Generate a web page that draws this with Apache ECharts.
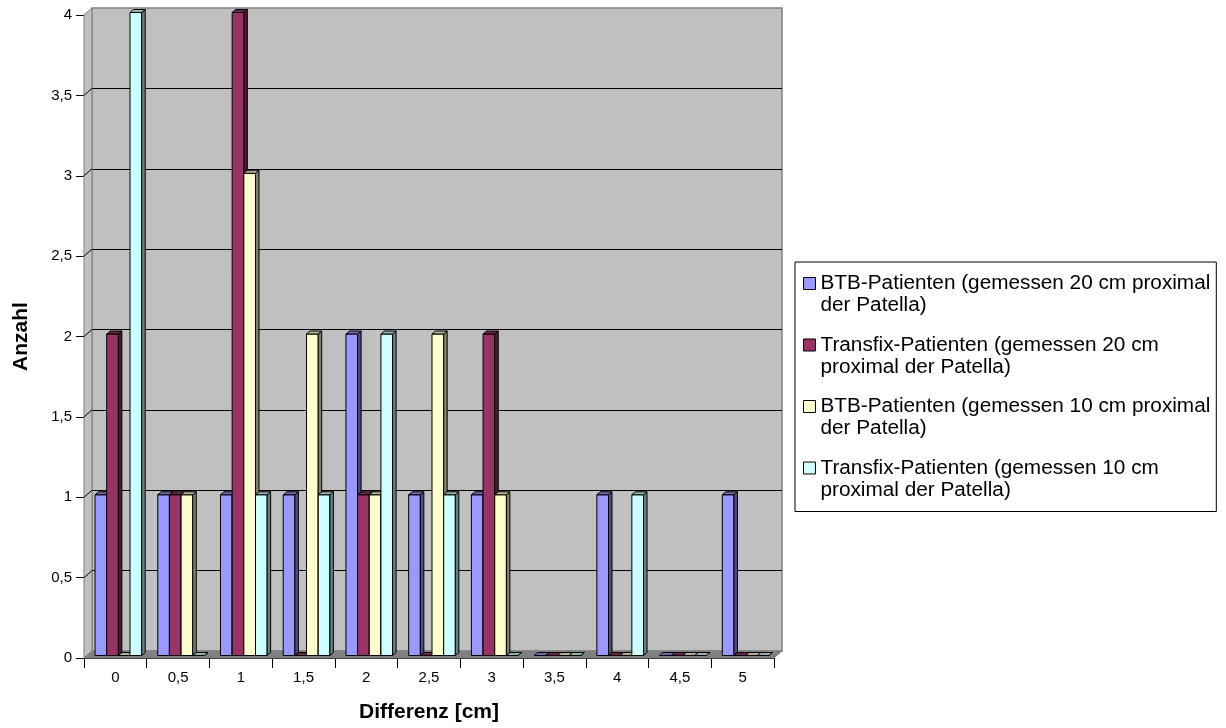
<!DOCTYPE html>
<html>
<head>
<meta charset="utf-8">
<script src="https://cdn.jsdelivr.net/npm/echarts@6/dist/echarts.min.js"></script>
<style>
  html, body { margin: 0; padding: 0; background: #ffffff; }
  #chart { width: 1226px; height: 728px; }
</style>
</head>
<body>
<div id="chart"></div>
<script>
// Differences in cm (category axis)
const categories = ['0', '0,5', '1', '1,5', '2', '2,5', '3', '3,5', '4', '4,5', '5'];

// Number of patients per difference
const btb20      = [1, 1, 1, 1, 2, 1, 1, 0, 1, 0, 1];
const transfix20 = [2, 1, 4, 0, 1, 0, 2, 0, 0, 0, 0];
const btb10      = [0, 1, 3, 2, 1, 2, 1, 0, 0, 0, 0];
const transfix10 = [4, 0, 1, 1, 2, 1, 0, 0, 1, 0, 0];

const seriesNames = [
  'BTB-Patienten (gemessen 20 cm proximal\nder Patella)',
  'Transfix-Patienten (gemessen 20 cm\nproximal der Patella)',
  'BTB-Patienten (gemessen 10 cm proximal\nder Patella)',
  'Transfix-Patienten (gemessen 10 cm\nproximal der Patella)'
];

// Value axis
const yMin = 0, yMax = 4, yStep = 0.5;

// Styling
const FONT = "'Liberation Sans', Arial, sans-serif";
const faceColors = [
  { front: '#9999ff', top: '#6b6bb3', side: '#4d4d80' },
  { front: '#993366', top: '#6b2447', side: '#4d1a33' },
  { front: '#ffffcc', top: '#b3b38f', side: '#80806a' },
  { front: '#ccffff', top: '#8fb3b3', side: '#668080' }
];
const WALL_DX = 8, WALL_DY = 7;     // depth of the 3D box
const BAR_DX = 3, BAR_DY = 2.5;     // bar front plane offset inside the box
const BAR_DEPTH_X = 3.5, BAR_DEPTH_Y = 3;
const BAR_RATIO = 0.186;            // bar width relative to category band

function fmt(v) { return String(v).replace('.', ','); }

function barRenderer(idx) {
  const c = faceColors[idx];
  return function (params, api) {
    const cat = api.value(0), val = api.value(1);
    const base = api.coord([cat, 0]);
    const topPt = api.coord([cat, val]);
    const band = api.size([1, 0])[0];
    const w = band * BAR_RATIO;
    const x0 = base[0] - 2 * w + idx * w + BAR_DX;
    const x1 = x0 + w;
    const yb = base[1] - BAR_DY;
    const yt = topPt[1] - BAR_DY;
    const dx = BAR_DEPTH_X, dy = BAR_DEPTH_Y;
    const stroke = { stroke: '#000000', lineWidth: 1 };
    return {
      type: 'group',
      children: [
        { type: 'rect', shape: { x: x0, y: yt, width: w, height: yb - yt },
          style: Object.assign({ fill: c.front }, stroke) },
        { type: 'polygon', shape: { points: [[x1, yt], [x1 + dx, yt - dy], [x1 + dx, yb - dy], [x1, yb]] },
          style: Object.assign({ fill: c.side }, stroke) },
        { type: 'polygon', shape: { points: [[x0, yt], [x1, yt], [x1 + dx, yt - dy], [x0 + dx, yt - dy]] },
          style: Object.assign({ fill: c.top }, stroke) }
      ]
    };
  };
}

// Left wall, floor and the wall's grid lines of the 3D box
function wallRenderer(params, api) {
  const cs = params.coordSys;
  const x = cs.x, y = cs.y, w = cs.width, h = cs.height;
  const children = [
    { type: 'polygon', shape: { points: [[x, y + h], [x, y], [x + WALL_DX, y - WALL_DY], [x + WALL_DX, y + h - WALL_DY]] },
      style: { fill: '#c0c0c0', stroke: '#808080', lineWidth: 1 } },
    { type: 'polygon', shape: { points: [[x, y + h], [x + w, y + h], [x + w + WALL_DX, y + h - WALL_DY], [x + WALL_DX, y + h - WALL_DY]] },
      style: { fill: '#808080', stroke: '#808080', lineWidth: 1 } }
  ];
  for (let v = yMin + yStep; v < yMax; v += yStep) {
    const py = api.coord([0, v])[1];
    children.push({ type: 'line', shape: { x1: x, y1: py, x2: x + WALL_DX, y2: py - WALL_DY },
      style: { stroke: '#000000', lineWidth: 1 } });
  }
  return { type: 'group', children: children };
}

const seriesData = [btb20, transfix20, btb10, transfix10];

const legendIcon = 'path://M0,0 M0,5 L12,5 L12,17 L0,17 Z M0,44';

const option = {
  backgroundColor: '#ffffff',
  animation: false,
  textStyle: { fontFamily: FONT },
  grid: [
    { left: 84, top: 15, right: 452, bottom: 70 },
    { left: 84 + WALL_DX, top: 15 - WALL_DY, right: 452 - WALL_DX, bottom: 70 + WALL_DY,
      show: true, backgroundColor: '#c0c0c0', borderColor: '#808080', borderWidth: 1.5, z: -5 }
  ],
  xAxis: [
    {
      type: 'category', gridIndex: 0, data: categories,
      axisLine: { show: true, lineStyle: { color: '#000000', width: 1 } },
      axisTick: { show: true, inside: false, length: 10, lineStyle: { color: '#000000' } },
      axisLabel: { color: '#000000', fontSize: 15, fontFamily: FONT, margin: 12 },
      name: 'Differenz [cm]', nameLocation: 'middle', nameGap: 44,
      nameTextStyle: { fontSize: 21, fontWeight: 'bold', color: '#000000', fontFamily: FONT },
      splitLine: { show: false }
    },
    {
      type: 'category', gridIndex: 1, data: categories,
      axisLine: { show: false }, axisTick: { show: false }, axisLabel: { show: false },
      splitLine: { show: false }
    }
  ],
  yAxis: [
    {
      type: 'value', gridIndex: 0, min: yMin, max: yMax, interval: yStep,
      axisLine: { show: true, lineStyle: { color: '#000000', width: 1 } },
      axisTick: { show: true, inside: false, length: 8, lineStyle: { color: '#000000' } },
      axisLabel: { color: '#000000', fontSize: 15, fontFamily: FONT, margin: 12, formatter: fmt },
      name: 'Anzahl', nameLocation: 'middle', nameGap: 52, nameRotate: 90,
      nameTextStyle: { fontSize: 21, fontWeight: 'bold', color: '#000000', fontFamily: FONT },
      splitLine: { show: false }
    },
    {
      type: 'value', gridIndex: 1, min: yMin, max: yMax, interval: yStep,
      axisLine: { show: false }, axisTick: { show: false }, axisLabel: { show: false },
      splitLine: { show: true, showMinLine: false, showMaxLine: false, lineStyle: { color: '#000000', width: 1 } }
    }
  ],
  legend: {
    orient: 'vertical',
    left: 795, top: 262,
    padding: [10, 6, 10, 8],
    itemGap: 16.5,
    itemWidth: 12, itemHeight: 44,
    borderColor: '#000000', borderWidth: 1,
    backgroundColor: '#ffffff',
    textStyle: { fontSize: 20.75, lineHeight: 22, color: '#000000', fontFamily: FONT },
    itemStyle: { borderColor: '#000000', borderWidth: 1 },
    selectedMode: false,
    data: seriesNames.map(function (n) { return { name: n, icon: legendIcon }; })
  },
  series: [
    {
      type: 'custom', name: 'walls', xAxisIndex: 0, yAxisIndex: 0, z: 1,
      silent: true, clip: false,
      renderItem: wallRenderer,
      data: [[0, 0]]
    }
  ].concat(seriesData.map(function (arr, i) {
    return {
      type: 'custom', name: seriesNames[i], xAxisIndex: 0, yAxisIndex: 0, z: 3,
      clip: false,
      itemStyle: { color: faceColors[i].front },
      encode: { x: 0, y: 1 },
      renderItem: barRenderer(i),
      data: arr.map(function (v, k) { return [k, v]; })
    };
  }))
};

const chart = echarts.init(document.getElementById('chart'), null, { renderer: 'canvas' });
chart.setOption(option);
</script>
</body>
</html>
